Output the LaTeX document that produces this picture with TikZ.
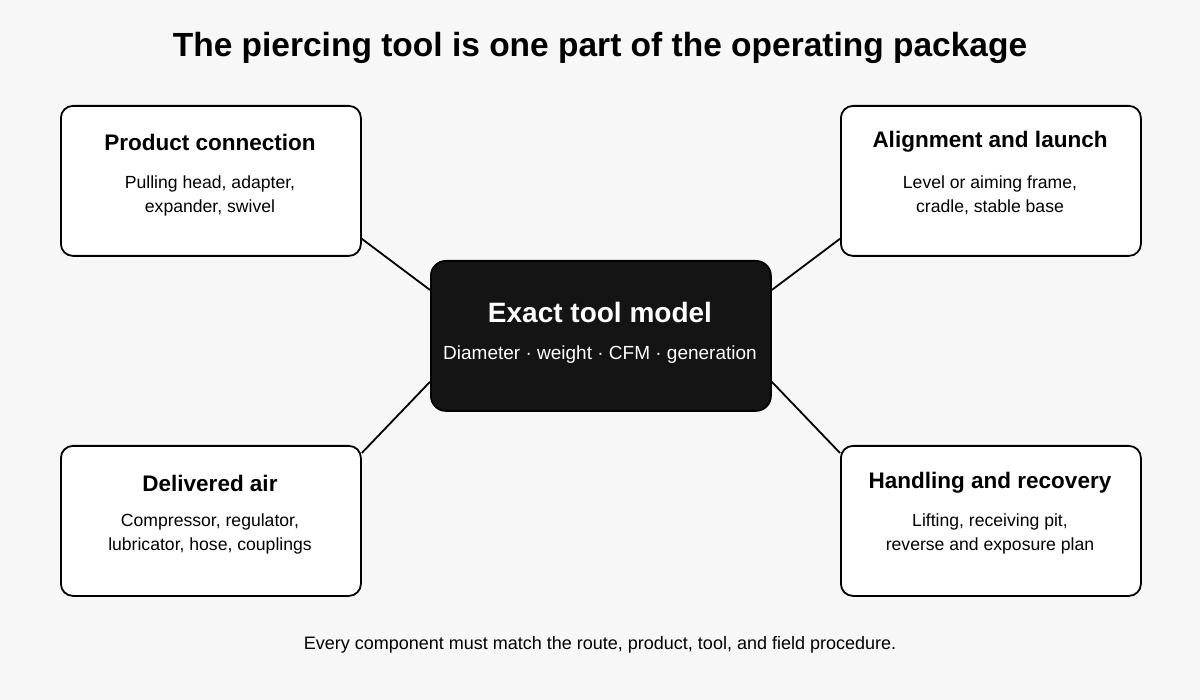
\documentclass[tikz,border=0pt]{standalone}
\usepackage{fontspec}
\setmainfont{Liberation Sans}
\begin{document}
\begin{tikzpicture}[x=1pt,y=-1pt,
 box/.style={draw=black,line width=1.8pt,rounded corners=12pt,fill=white,minimum width=300pt,minimum height=150pt,anchor=north west,inner sep=0pt},
 hd/.style={font=\bfseries\fontsize{22.5}{26}\selectfont,anchor=center},
 bd/.style={font=\fontsize{17.6}{24}\selectfont,align=center,anchor=north},
 ln/.style={line width=1.8pt}]
\fill[white!97!black] (0,0) rectangle (1200,700);
\useasboundingbox (0,0) rectangle (1200,700);
\node[font=\bfseries\fontsize{33.5}{38}\selectfont] (title) at (600,48) {The piercing tool is one part of the operating package};
\node[box] (pc) at (60,105) {};
\node[box] (al) at (840,105) {};
\node[box] (da) at (60,445) {};
\node[box] (hr) at (840,445) {};
\node[draw=black,fill=black!92,line width=1.8pt,rounded corners=15pt,minimum width=340pt,minimum height=150pt,anchor=north west] (c) at (430,260) {};
\node[hd] (pch) at (210,142) {Product connection};
\node[bd] (pcb) at (210,172) {Pulling head, adapter,\\expander, swivel};
\node[hd] (alh) at (990,142) {Alignment and launch};
\node[bd] (alb) at (990,172) {Level or aiming frame,\\cradle, stable base};
\node[hd] (dah) at (210,483) {Delivered air};
\node[bd] (dab) at (210,510) {Compressor, regulator,\\lubricator, hose, couplings};
\node[hd] (hrh) at (990,483) {Handling and recovery};
\node[bd] (hrb) at (990,510) {Lifting, receiving pit,\\reverse and exposure plan};
\node[font=\bfseries\fontsize{28}{32}\selectfont,text=white] (ct) at (600,312) {Exact tool model};
\node[font=\fontsize{19}{22}\selectfont,text=white] (cs) at (600,355) {Diameter · weight · CFM · generation};
\node[font=\fontsize{18}{22}\selectfont] (foot) at (600,645) {Every component must match the route, product, tool, and field procedure.};
\draw[ln] ([yshift=18pt]pc.south east) -- ([yshift=-30pt]c.north west);
\draw[ln] ([yshift=18pt]al.south west) -- ([yshift=-30pt]c.north east);
\draw[ln] ([yshift=-8pt]da.north east) -- ([yshift=30pt]c.south west);
\draw[ln] ([yshift=-8pt]hr.north west) -- ([yshift=30pt]c.south east);
\end{tikzpicture}
\end{document}
